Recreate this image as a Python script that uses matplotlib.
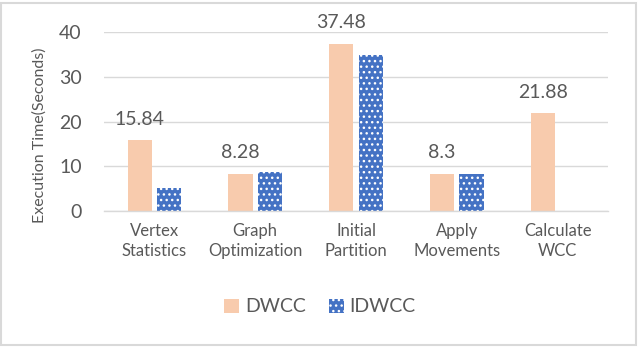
import matplotlib
matplotlib.use('Agg')
import matplotlib.pyplot as plt
from matplotlib.patches import Rectangle
import numpy as np

categories = ['Vertex\nStatistics', 'Graph\nOptimization', 'Initial\nPartition',
              'Apply\nMovements', 'Calculate\nWCC']
dwcc = [15.84, 8.28, 37.48, 8.3, 21.88]
idwcc = [5.0, 8.6, 34.9, 8.15, 0]
yticks = [0, 10, 20, 30, 40]

text_color = '#595959'
grid_color = '#D9D9D9'

plt.rcParams['font.family'] = ['Lato', 'DejaVu Sans']
plt.rcParams['hatch.color'] = 'white'
plt.rcParams['hatch.linewidth'] = 1.0

fig = plt.figure(figsize=(6.4, 3.47), dpi=100)
ax = fig.add_axes([0.1625, 0.3928, 0.7875, 0.514])

x = np.arange(len(categories))
w = 0.24
b1 = ax.bar(x - 0.145, dwcc, w, color='#F8CBAD', label='DWCC')
b2 = ax.bar(x + 0.145, idwcc, w, color='#4472C4', hatch='...', label='IDWCC')

ax.bar_label(b1, fontsize=14, color=text_color, padding=9)

ax.set_xlim(-0.5, len(categories) - 0.5)
ax.set_ylim(0, 40)
ax.set_yticks(yticks)
ax.set_xticks(x)
ax.set_xticklabels(categories, fontsize=12, color=text_color, linespacing=1.3)
ax.tick_params(axis='y', length=0, pad=16, labelsize=14, labelcolor=text_color)
ax.tick_params(axis='x', length=0, pad=9)

ax.grid(axis='y', color=grid_color, linewidth=1)
ax.set_axisbelow(True)
for s in ['top', 'right', 'left']:
    ax.spines[s].set_visible(False)
ax.spines['bottom'].set_color(grid_color)
ax.spines['bottom'].set_linewidth(1)

fig.text(40 / 640, 1 - 135 / 347, 'Execution Time(Seconds)', rotation=90,
         ha='center', va='center', fontsize=11.5, color=text_color)

fig.legend(handles=[b1, b2], loc='center', bbox_to_anchor=(0.5, 1 - 307 / 347),
           ncol=2, frameon=False, fontsize=14, labelcolor=text_color,
           handlelength=0.75, handleheight=0.75, handletextpad=0.3, columnspacing=1.2)

# light grey frame around the chart area
fig.patches.append(Rectangle((0.5 / 640, 1 - 345 / 347), 635.5 / 640, 342 / 347,
                             transform=fig.transFigure, fill=False,
                             edgecolor=grid_color, linewidth=1.5))

fig.savefig('out.png', dpi=100)
